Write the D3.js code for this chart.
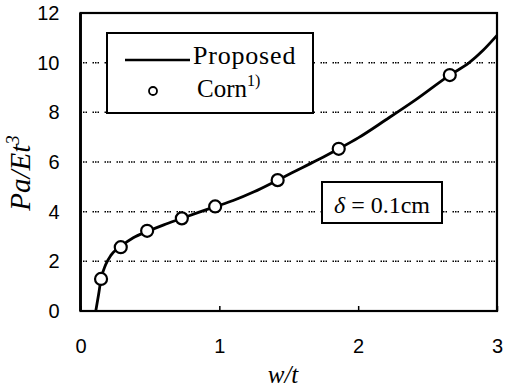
<!DOCTYPE html>
<html>
<head>
<meta charset="utf-8">
<script src="https://cdn.jsdelivr.net/npm/d3@7"></script>
<style>
  body { margin: 0; background: #fff; }
  svg { display: block; }
  .tick text { font-family: "Liberation Sans", Arial, sans-serif; font-size: 20px; fill: #000; }
  .serif { font-family: "Liberation Serif", "Times New Roman", serif; fill: #000; }
</style>
</head>
<body>
<svg width="508" height="388"></svg>
<script>
// Proposed curve
const proposedX = [0.11, 0.13, 0.148, 0.18, 0.22, 0.29, 0.38, 0.48, 0.6, 0.73, 0.85, 0.97, 1.1, 1.25, 1.42, 1.6, 1.75, 1.86, 2.0, 2.2, 2.4, 2.66, 2.8, 2.9, 3.0];
const proposedY = [0, 0.65, 1.29, 1.85, 2.25, 2.6, 2.95, 3.2, 3.47, 3.73, 3.97, 4.2, 4.45, 4.8, 5.27, 5.78, 6.2, 6.53, 6.97, 7.7, 8.45, 9.5, 10.0, 10.5, 11.1];

// Corn 1) points
const cornX = [0.148, 0.29, 0.48, 0.73, 0.97, 1.42, 1.86, 2.66];
const cornY = [1.29, 2.57, 3.23, 3.73, 4.21, 5.27, 6.53, 9.5];

const xTicks = [0, 1, 2, 3];
const yTicks = [0, 2, 4, 6, 8, 10, 12];
const gridY = [2, 4, 6, 8, 10];

const margin = { top: 13, right: 11, bottom: 77, left: 80.5 };
const svg = d3.select("svg");
const width = +svg.attr("width") - margin.left - margin.right;
const height = +svg.attr("height") - margin.top - margin.bottom;

const g = svg.append("g").attr("transform", `translate(${margin.left},${margin.top})`);

const x = d3.scaleLinear().domain([0, 3]).range([0, width]);
const y = d3.scaleLinear().domain([0, 12]).range([height, 0]);

// dotted grid
g.selectAll(".grid")
  .data(gridY)
  .enter().append("line")
  .attr("class", "grid")
  .attr("x1", 0).attr("x2", width)
  .attr("y1", d => y(d)).attr("y2", d => y(d))
  .attr("stroke", "#000")
  .attr("stroke-width", 1.5)
  .attr("stroke-dasharray", "1.5,1,1.5,1,1.5,5.5");

// legend box
const leg = g.append("g").attr("transform", `translate(${107 - margin.left},${33 - margin.top})`);
leg.append("rect").attr("width", 206).attr("height", 80)
  .attr("fill", "#fff").attr("stroke", "#000").attr("stroke-width", 2);
leg.append("line").attr("x1", 18).attr("x2", 83).attr("y1", 27).attr("y2", 27)
  .attr("stroke", "#000").attr("stroke-width", 2.5);
leg.append("text").attr("class", "serif").attr("x", 86).attr("y", 31)
  .style("font-size", "26px").style("letter-spacing", "0.8px").text("Proposed");
leg.append("circle").attr("cx", 46).attr("cy", 58).attr("r", 4)
  .attr("fill", "#fff").attr("stroke", "#000").attr("stroke-width", 1.8);
const corn = leg.append("text").attr("class", "serif").attr("x", 90).attr("y", 64)
  .style("font-size", "25px");
corn.append("tspan").text("Corn");
corn.append("tspan").attr("dy", -11).style("font-size", "16px").text("1)");

// delta box
const dbox = g.append("g").attr("transform", `translate(${322 - margin.left},${182 - margin.top})`);
dbox.append("rect").attr("width", 120).attr("height", 41)
  .attr("fill", "#fff").attr("stroke", "#000").attr("stroke-width", 2);
const dt = dbox.append("text").attr("class", "serif").attr("x", 60).attr("y", 31)
  .attr("text-anchor", "middle").style("font-size", "24px");
dt.append("tspan").style("font-style", "italic").text("δ");
dt.append("tspan").text(" = 0.1cm");

// proposed curve
const line = d3.line()
  .x(d => x(d[0]))
  .y(d => y(d[1]))
  .curve(d3.curveMonotoneX);
g.append("path")
  .datum(d3.zip(proposedX, proposedY))
  .attr("d", line)
  .attr("fill", "none")
  .attr("stroke", "#000")
  .attr("stroke-width", 2.8);

// corn points
g.selectAll(".pt")
  .data(d3.zip(cornX, cornY))
  .enter().append("circle")
  .attr("class", "pt")
  .attr("cx", d => x(d[0]))
  .attr("cy", d => y(d[1]))
  .attr("r", 6)
  .attr("fill", "#fff")
  .attr("stroke", "#000")
  .attr("stroke-width", 2.2);

// axes
g.append("g")
  .attr("transform", `translate(0,${height})`)
  .call(d3.axisBottom(x).tickValues(xTicks).tickSize(-5).tickPadding(28).tickFormat(d3.format("d")))
  .call(a => a.select(".domain").remove())
  .call(a => a.selectAll("line").attr("stroke-width", 1.5));

g.append("g")
  .call(d3.axisLeft(y).tickValues(yTicks).tickSize(0).tickPadding(21).tickFormat(d3.format("d")))
  .call(a => a.select(".domain").remove());

// frame
g.append("rect").attr("width", width).attr("height", height)
  .attr("fill", "none").attr("stroke", "#000").attr("stroke-width", 2.2);
g.append("line").attr("x1", 0).attr("x2", 0).attr("y1", 0).attr("y2", height)
  .attr("stroke", "#000").attr("stroke-width", 2.8);

// axis titles
svg.append("text").attr("class", "serif")
  .attr("x", 283).attr("y", 383)
  .attr("text-anchor", "middle")
  .style("font-size", "25px").style("font-style", "italic")
  .text("w/t");

const yl = svg.append("text").attr("class", "serif")
  .attr("transform", "translate(30,173) rotate(-90)")
  .attr("text-anchor", "middle")
  .style("font-size", "29px").style("font-style", "italic");
yl.append("tspan").text("Pa/Et");
yl.append("tspan").attr("dy", -11).style("font-size", "19px").text("3");
</script>
</body>
</html>
